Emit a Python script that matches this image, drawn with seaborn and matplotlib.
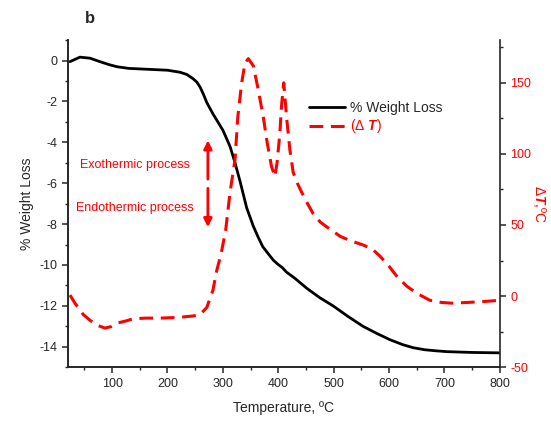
import matplotlib
matplotlib.use("Agg")
import matplotlib.pyplot as plt
import seaborn as sns
import pandas as pd
from matplotlib.ticker import MultipleLocator
from matplotlib.lines import Line2D

# Weight loss curve (left axis)
temp_w = [24, 42, 60, 78, 95, 109, 130, 169, 200, 223, 235, 246, 253, 259, 265,
          271, 282, 291, 300, 313, 322, 331, 343, 355, 364, 372, 382, 391, 400,
          407, 415, 430, 452, 475, 499, 525, 553, 578, 602, 625, 644, 665, 685,
          704, 750, 800]
weight = [-0.05, 0.17, 0.12, -0.05, -0.2, -0.3, -0.38, -0.43, -0.47, -0.57, -0.68,
          -0.88, -1.05, -1.3, -1.65, -2.05, -2.6, -3.0, -3.4, -4.2, -5.0, -5.9,
          -7.2, -8.1, -8.65, -9.1, -9.45, -9.76, -9.98, -10.12, -10.35, -10.65,
          -11.15, -11.6, -12.0, -12.5, -13.0, -13.35, -13.66, -13.9, -14.05,
          -14.15, -14.2, -14.24, -14.28, -14.3]

# DTA curve (right axis)
temp_d = [24, 33, 48, 60, 73, 87, 98, 109, 125, 138, 160, 187, 220, 246, 259, 271,
          282, 289, 297, 305, 313, 322, 327, 334, 340, 346, 355, 364, 373, 380,
          388, 394, 398, 403, 406, 410, 415, 421, 427, 435, 443, 453, 463, 476,
          490, 512, 530, 553, 570, 584, 600, 614, 632, 650, 674, 695, 715, 740,
          764, 800]
delta_t = [0.7, -5, -13, -17, -20.5, -22.5, -21.5, -19, -17.5, -16, -15.5, -15.5,
           -15, -14, -13, -8, 4, 18, 30, 46, 73, 96, 126, 150, 164, 167, 162, 145,
           126, 108, 91, 84, 94, 115, 134, 150, 126, 103, 87, 79, 72.5, 65, 58,
           52, 48, 42, 39, 36, 33, 28, 21, 14, 7, 2, -3, -4.5, -5, -4.5, -4, -3]

df_w = pd.DataFrame({"T": temp_w, "W": weight})
df_d = pd.DataFrame({"T": temp_d, "D": delta_t})

sns.set_style("ticks")
plt.rcParams["font.family"] = ["Liberation Sans", "DejaVu Sans"]
plt.rcParams["axes.unicode_minus"] = False
plt.rcParams["mathtext.fontset"] = "custom"
plt.rcParams["mathtext.it"] = "Liberation Sans:italic:bold"
plt.rcParams["mathtext.rm"] = "Liberation Sans"

fig = plt.figure(figsize=(5.51, 4.23), dpi=100)
ax = fig.add_axes([0.123, 0.132, 0.784, 0.773])
ax2 = ax.twinx()

sns.lineplot(data=df_w, x="T", y="W", ax=ax, color="black", lw=2.0,
             estimator=None, legend=False)
sns.lineplot(data=df_d, x="T", y="D", ax=ax2, color="red", lw=2.2,
             estimator=None, legend=False)
for l in ax2.get_lines():
    l.set_dashes((4.5, 2.5))
    l.set_solid_joinstyle("round")
for l in ax.get_lines():
    l.set_solid_joinstyle("round")

ax.set_xlim(20, 800)
ax.set_ylim(-15, 1)
ax2.set_ylim(-50, 180)

ax.xaxis.set_major_locator(MultipleLocator(100))
ax.xaxis.set_minor_locator(MultipleLocator(50))
ax.yaxis.set_major_locator(MultipleLocator(2))
ax.yaxis.set_minor_locator(MultipleLocator(1))
ax2.yaxis.set_major_locator(MultipleLocator(50))
ax2.yaxis.set_minor_locator(MultipleLocator(25))

for a in (ax, ax2):
    a.spines["top"].set_visible(False)
    for s in a.spines.values():
        s.set_linewidth(1.2)
    a.tick_params(which="major", length=4, width=1.1, labelsize=9)
    a.tick_params(which="minor", length=2.5, width=1.0)
ax2.tick_params(axis="y", labelcolor="red")
ax.spines["right"].set_visible(False)

ax.set_xlabel("Temperature, ºC", fontsize=10, labelpad=8)
ax.set_ylabel("% Weight Loss", fontsize=10, labelpad=4)
ax2.set_ylabel(r"$\Delta$$\mathit{T}$,ºC", color="red", fontsize=10,
               rotation=270, labelpad=12)

# Legend
h1 = Line2D([], [], color="black", lw=2.0)
h2 = Line2D([], [], color="red", lw=2.2, dashes=(4.5, 2.5))
leg = ax.legend([h1, h2], ["% Weight Loss", r"($\Delta$ $\mathit{T}$)"],
                loc="upper left", bbox_to_anchor=(0.545, 0.83), frameon=False,
                fontsize=10, handlelength=2.6, handletextpad=0.4,
                labelspacing=0.15, borderaxespad=0)
leg.get_texts()[1].set_color("red")

# Annotations
ax.text(141, -5.12, "Exothermic process", color="red", fontsize=9,
        ha="center", va="center")
ax.text(141, -7.22, "Endothermic process", color="red", fontsize=9,
        ha="center", va="center")
ax.annotate("", xy=(273, -3.9), xytext=(273, -5.8),
            arrowprops=dict(arrowstyle="-|>", color="red", lw=2.0,
                            mutation_scale=12, shrinkA=0, shrinkB=0))
ax.annotate("", xy=(273, -8.15), xytext=(273, -6.25),
            arrowprops=dict(arrowstyle="-|>", color="red", lw=2.0,
                            mutation_scale=12, shrinkA=0, shrinkB=0))

fig.text(0.155, 0.957, "b", fontsize=12, fontweight="bold", ha="left", va="center")

fig.savefig("out.png", dpi=100)
